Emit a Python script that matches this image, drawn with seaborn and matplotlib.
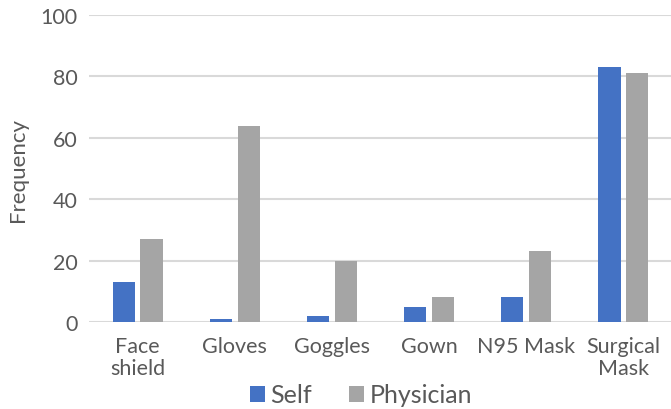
import matplotlib
matplotlib.use("Agg")
import matplotlib.pyplot as plt
import seaborn as sns
import pandas as pd
from matplotlib.patches import Patch

categories = ["Face\nshield", "Gloves", "Goggles", "Gown", "N95 Mask", "Surgical\nMask"]
self_vals = [13, 1, 2, 5, 8, 83]
physician_vals = [27, 64, 20, 8, 23, 81]
series = ["Self", "Physician"]
colors = ["#4472C4", "#A5A5A5"]
yticks = [0, 20, 40, 60, 80, 100]

df = pd.DataFrame({
    "Category": categories * 2,
    "Series": ["Self"] * len(categories) + ["Physician"] * len(categories),
    "Frequency": self_vals + physician_vals,
})

sns.set_theme(style="white")
plt.rcParams["font.family"] = ["Lato", "DejaVu Sans"]
txt = "#595959"

fig = plt.figure(figsize=(6.71, 4.10), dpi=100)
ax = fig.add_axes([89/671, 87/410, 583/671, 307/410])
sns.barplot(data=df, x="Category", y="Frequency", hue="Series", hue_order=series,
            palette=colors, width=0.57, gap=0.2, ax=ax, legend=False,
            saturation=1, linewidth=0)
ax.set_ylim(0, 100)
ax.set_xlim(-0.5, 5.5)
ax.set_yticks(yticks)
ax.yaxis.grid(True, color="#D9D9D9", linewidth=1.5)
ax.set_axisbelow(True)
for s in ax.spines.values():
    s.set_visible(False)
ax.tick_params(axis="both", length=0, labelsize=15.5, colors=txt, pad=8)
ax.tick_params(axis="x", pad=10)
ax.set_xlabel("")
ax.set_ylabel("Frequency", fontsize=16, color=txt, labelpad=9)
for lbl in ax.get_xticklabels():
    lbl.set_linespacing(1.15)

handles = [Patch(facecolor=c, edgecolor="none") for c in colors]
fig.legend(handles, series, loc="center", bbox_to_anchor=(361/671, 1 - 396/410),
           ncol=2, frameon=False, fontsize=18, handlelength=0.6, handleheight=0.6,
           handletextpad=0.2, columnspacing=1.5, labelcolor=txt)

fig.savefig("out.png", dpi=100)
